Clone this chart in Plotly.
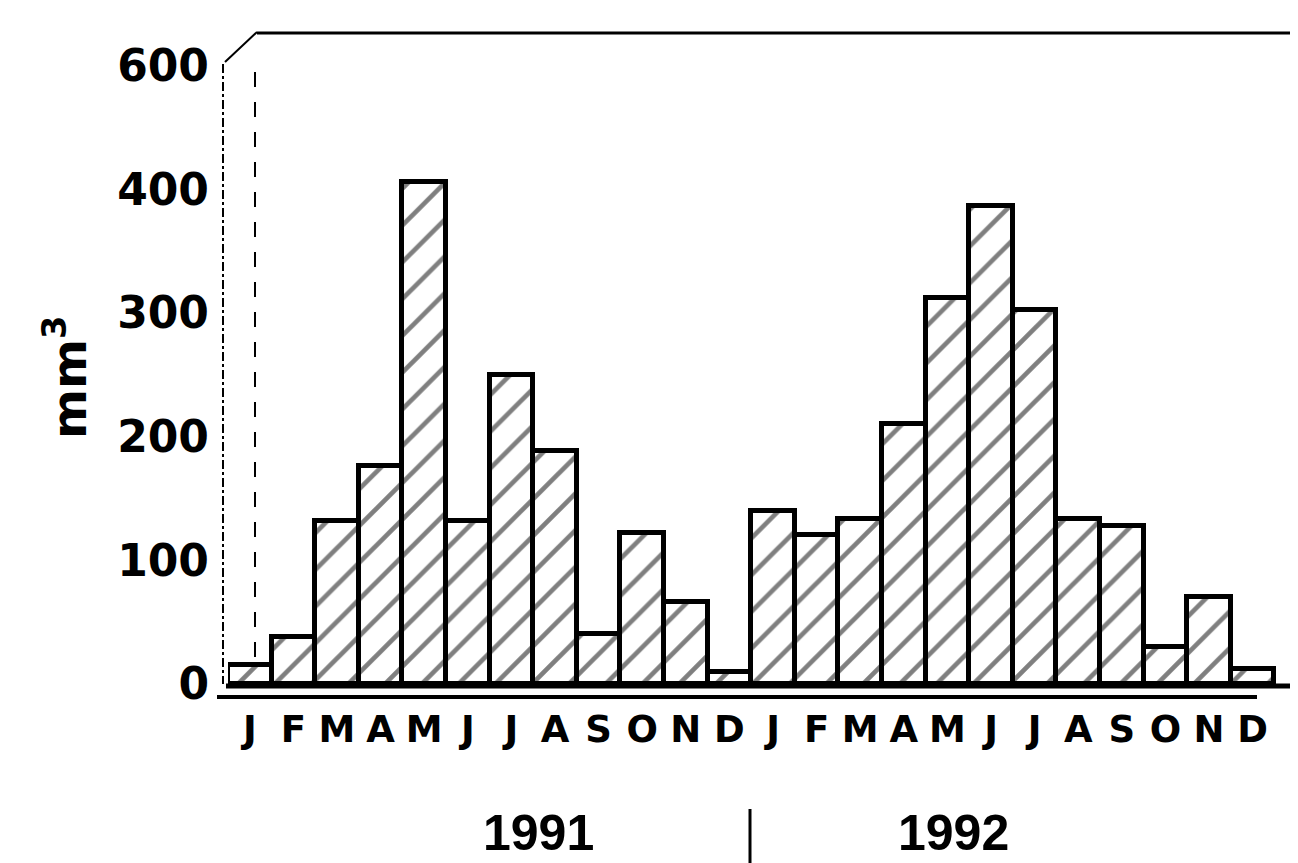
import plotly.graph_objects as go

months = ["J", "F", "M", "A", "M", "J", "J", "A", "S", "O", "N", "D"] * 2
values_1991 = [15, 38, 132, 176, 406, 132, 250, 188, 40, 122, 66, 10]
values_1992 = [140, 120, 133, 210, 312, 386, 302, 133, 128, 30, 70, 12]
values = values_1991 + values_1992
x_pos = list(range(len(values)))
y_tickvals = [0, 100, 200, 300, 400, 500]
y_ticktext = ["0", "100", "200", "300", "400", "600"]
years = ["1991", "1992"]

FONT = "DejaVu Sans"
FONT2 = "Liberation Sans"

# the page body has an 8px margin: the figure starts at screen (8, 8)
OFF = 8
W, H = 1298 - OFF, 863 - OFF
L, R = 228 - OFF, 0
T = 32 - OFF
B = (863 - 700)
pw, ph = W - L - R, H - T - B


def px(xs):
    # screen x -> paper x
    return (xs - 228) / pw


def py(ys):
    # screen y -> paper y
    return (700 - ys) / ph


fig = go.Figure()
fig.add_trace(go.Bar(
    x=x_pos, y=values,
    marker=dict(
        color="white",
        line=dict(color="black", width=5),
        pattern=dict(shape="/", fgcolor="black", bgcolor="white", size=26, solidity=0.18),
    ),
    width=1.0,
    showlegend=False,
))

shapes = []
# left outer dashed wall
shapes.append(dict(type="line", xref="paper", yref="paper",
                   x0=px(223), x1=px(223), y0=py(64), y1=py(684),
                   line=dict(color="black", width=2, dash="dashdot")))
# inner wall
shapes.append(dict(type="line", xref="paper", yref="paper",
                   x0=px(255), x1=px(255), y0=py(72), y1=py(665),
                   line=dict(color="black", width=2, dash="longdash")))
# diagonal
shapes.append(dict(type="line", xref="paper", yref="paper",
                   x0=px(225), x1=px(257), y0=py(62), y1=py(32),
                   line=dict(color="black", width=2)))
# top line
shapes.append(dict(type="line", xref="paper", yref="paper",
                   x0=px(257), x1=px(1298), y0=py(33), y1=py(33),
                   line=dict(color="black", width=3)))
# floor lines
shapes.append(dict(type="line", xref="paper", yref="paper",
                   x0=px(226), x1=px(1298), y0=py(686), y1=py(686),
                   line=dict(color="black", width=5)))
shapes.append(dict(type="line", xref="paper", yref="paper",
                   x0=px(217), x1=px(1257), y0=py(697), y1=py(697),
                   line=dict(color="black", width=4)))
# right wall fragment
shapes.append(dict(type="line", xref="paper", yref="paper",
                   x0=px(1295), x1=px(1295), y0=py(590), y1=py(665),
                   line=dict(color="black", width=2, dash="dash")))
# year separator
shapes.append(dict(type="line", xref="paper", yref="paper",
                   x0=px(750), x1=px(750), y0=py(809), y1=py(863),
                   line=dict(color="black", width=3)))

annotations = [
    dict(text="<b>mm<sup>3</sup></b>", xref="paper", yref="paper",
         x=px(66), y=py(378), xanchor="center", yanchor="middle",
         textangle=-90, showarrow=False,
         font=dict(family=FONT, size=48, color="black")),
    dict(text="<b>" + years[0] + "</b>", xref="paper", yref="paper",
         x=px(538), y=py(833), xanchor="center", yanchor="middle", showarrow=False,
         font=dict(family=FONT2, size=50, color="black")),
    dict(text="<b>" + years[1] + "</b>", xref="paper", yref="paper",
         x=px(953), y=py(833), xanchor="center", yanchor="middle", showarrow=False,
         font=dict(family=FONT2, size=50, color="black")),
]

fig.update_layout(
    width=W, height=H,
    margin=dict(l=L, r=R, t=T, b=B, pad=0),
    paper_bgcolor="white", plot_bgcolor="white",
    bargap=0,
    shapes=shapes,
    annotations=annotations,
    xaxis=dict(
        range=[-0.5, 24.04],
        tickmode="array", tickvals=x_pos, ticktext=months,
        tickfont=dict(family=FONT, size=37, color="black", weight="bold"),
        showgrid=False, zeroline=False, showline=False, ticks="",
        ticklabelstandoff=4,
    ),
    yaxis=dict(
        range=[-13, 527],
        tickmode="array", tickvals=y_tickvals, ticktext=y_ticktext,
        tickfont=dict(family=FONT, size=44, color="black", weight="bold"),
        showgrid=False, zeroline=False, showline=False, ticks="",
        ticklabelstandoff=18,
    ),
)

fig.write_html("out.html")
